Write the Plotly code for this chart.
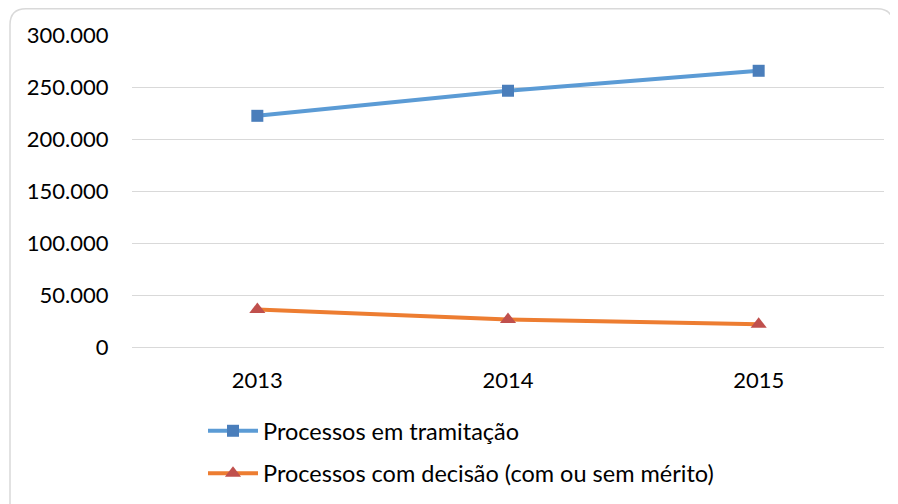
import plotly.graph_objects as go

years = ["2013", "2014", "2015"]
tramitacao = [222300, 246400, 265600]
decisao = [36000, 26400, 21900]
y_ticks = [0, 50000, 100000, 150000, 200000, 250000, 300000]

# page has an 8px body margin, so the figure is laid out 8px smaller
W, H = 890, 496
L, R, T, B = 124, 876, 27, 338.7
pw, ph = R - L, B - T

def px(x):
    return (x - L) / pw

def py(y):
    return (B - y) / ph

fig = go.Figure()
fig.add_trace(go.Scatter(
    x=years, y=tramitacao, mode="lines+markers",
    name="Processos em tramitação", legendgroup="a",
    line=dict(color="#5B9BD5", width=4),
    marker=dict(symbol="square", size=12, color="#4A7EBB"),
))
fig.add_trace(go.Scatter(
    x=years, y=decisao, mode="lines+markers",
    name="Processos com decisão (com ou sem mérito)", legendgroup="b",
    line=dict(color="#ED7D31", width=4),
    marker=dict(symbol="triangle-up", size=14, color="#C0504D"),
))

# rounded chart border
x0, x1, y0, y1, r = 2, 885, 0.8, 510, 16
path = (f"M {px(x0)},{py(y1)} L {px(x0)},{py(y0 + r)} "
        f"Q {px(x0)},{py(y0)} {px(x0 + r)},{py(y0)} "
        f"L {px(x1 - r)},{py(y0)} Q {px(x1)},{py(y0)} {px(x1)},{py(y0 + r)} "
        f"L {px(x1)},{py(y1)}")
fig.add_shape(type="path", path=path, xref="paper", yref="paper",
              line=dict(color="#D9D9D9", width=1.5), layer="below")

fig.update_layout(
    width=W, height=H,
    margin=dict(l=L, r=W - R, t=T, b=H - B, autoexpand=False),
    paper_bgcolor="white", plot_bgcolor="white",
    separators=",.",
    font=dict(family="Lato, Carlito, sans-serif", size=22, color="#000000"),
    showlegend=True,
    legend=dict(
        xref="container", yref="container",
        x=195 / W, y=1 - 401 / H, xanchor="left", yanchor="top",
        bgcolor="rgba(0,0,0,0)", tracegroupgap=9,
        font=dict(size=23.5), itemwidth=50,
    ),
    xaxis=dict(
        type="category", range=[-0.5, 2.5],
        showgrid=False, zeroline=False, showline=False,
        ticks="outside", ticklen=14, tickcolor="rgba(0,0,0,0)",
    ),
    yaxis=dict(
        range=[0, 300000], tickvals=y_ticks, tickformat=",.0f",
        showgrid=True, gridcolor="#D9D9D9", gridwidth=1.3,
        zeroline=True, zerolinecolor="#D9D9D9", zerolinewidth=1.3,
        showline=False,
        ticks="outside", ticklen=18, tickcolor="rgba(0,0,0,0)",
    ),
)

fig.write_html("out.html")
